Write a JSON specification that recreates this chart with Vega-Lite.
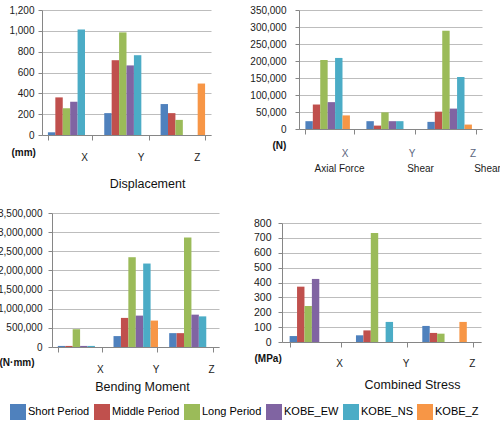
{
  "$schema": "https://vega.github.io/schema/vega-lite/v6.json",
  "padding": {"left": -3, "top": 5, "right": 0, "bottom": 0},
  "config": {
    "view": {"stroke": null},
    "font": "Liberation Sans",
    "axis": {"labelFont": "Liberation Sans", "labelFontSize": 10, "labelColor": "#1a1a1a", "domainColor": "#868686", "tickColor": "#868686", "gridColor": "#bdbdbd", "titleFont": "Liberation Sans", "titleColor": "#111111", "titleFontWeight": "normal"},
    "axisY": {"grid": true, "tickSize": 4, "titleAngle": 0, "titleAlign": "left", "titleBaseline": "middle", "titleFontWeight": "bold", "titleFontSize": 10, "format": ",d"},
    "axisX": {"grid": false, "tickBand": "extent", "tickSize": 5, "labelAngle": 0, "labelBaseline": "middle", "titleFontSize": 12.5, "titleBaseline": "middle", "titleAlign": "center"}
  },
  "data": {"values": [
    {"p": "disp", "axis": "X", "series": "Short Period", "value": 26},
    {"p": "disp", "axis": "X", "series": "Middle Period", "value": 361},
    {"p": "disp", "axis": "X", "series": "Long Period", "value": 258},
    {"p": "disp", "axis": "X", "series": "KOBE_EW", "value": 319},
    {"p": "disp", "axis": "X", "series": "KOBE_NS", "value": 1012},
    {"p": "disp", "axis": "X", "series": "KOBE_Z", "value": 0},
    {"p": "disp", "axis": "Y", "series": "Short Period", "value": 210},
    {"p": "disp", "axis": "Y", "series": "Middle Period", "value": 718},
    {"p": "disp", "axis": "Y", "series": "Long Period", "value": 985},
    {"p": "disp", "axis": "Y", "series": "KOBE_EW", "value": 668},
    {"p": "disp", "axis": "Y", "series": "KOBE_NS", "value": 766},
    {"p": "disp", "axis": "Y", "series": "KOBE_Z", "value": 0},
    {"p": "disp", "axis": "Z", "series": "Short Period", "value": 297},
    {"p": "disp", "axis": "Z", "series": "Middle Period", "value": 210},
    {"p": "disp", "axis": "Z", "series": "Long Period", "value": 145},
    {"p": "disp", "axis": "Z", "series": "KOBE_EW", "value": 0},
    {"p": "disp", "axis": "Z", "series": "KOBE_NS", "value": 0},
    {"p": "disp", "axis": "Z", "series": "KOBE_Z", "value": 494},
    {"p": "axial", "axis": "X", "series": "Short Period", "value": 23000},
    {"p": "axial", "axis": "X", "series": "Middle Period", "value": 72000},
    {"p": "axial", "axis": "X", "series": "Long Period", "value": 203000},
    {"p": "axial", "axis": "X", "series": "KOBE_EW", "value": 79000},
    {"p": "axial", "axis": "X", "series": "KOBE_NS", "value": 209000},
    {"p": "axial", "axis": "X", "series": "KOBE_Z", "value": 40000},
    {"p": "axial", "axis": "Y", "series": "Short Period", "value": 23000},
    {"p": "axial", "axis": "Y", "series": "Middle Period", "value": 10000},
    {"p": "axial", "axis": "Y", "series": "Long Period", "value": 49000},
    {"p": "axial", "axis": "Y", "series": "KOBE_EW", "value": 23000},
    {"p": "axial", "axis": "Y", "series": "KOBE_NS", "value": 23000},
    {"p": "axial", "axis": "Y", "series": "KOBE_Z", "value": 0},
    {"p": "axial", "axis": "Z", "series": "Short Period", "value": 21000},
    {"p": "axial", "axis": "Z", "series": "Middle Period", "value": 51000},
    {"p": "axial", "axis": "Z", "series": "Long Period", "value": 289000},
    {"p": "axial", "axis": "Z", "series": "KOBE_EW", "value": 60000},
    {"p": "axial", "axis": "Z", "series": "KOBE_NS", "value": 153000},
    {"p": "axial", "axis": "Z", "series": "KOBE_Z", "value": 13000},
    {"p": "bend", "axis": "X", "series": "Short Period", "value": 28000},
    {"p": "bend", "axis": "X", "series": "Middle Period", "value": 28000},
    {"p": "bend", "axis": "X", "series": "Long Period", "value": 465000},
    {"p": "bend", "axis": "X", "series": "KOBE_EW", "value": 28000},
    {"p": "bend", "axis": "X", "series": "KOBE_NS", "value": 28000},
    {"p": "bend", "axis": "X", "series": "KOBE_Z", "value": 0},
    {"p": "bend", "axis": "Y", "series": "Short Period", "value": 285000},
    {"p": "bend", "axis": "Y", "series": "Middle Period", "value": 760000},
    {"p": "bend", "axis": "Y", "series": "Long Period", "value": 2345000},
    {"p": "bend", "axis": "Y", "series": "KOBE_EW", "value": 820000},
    {"p": "bend", "axis": "Y", "series": "KOBE_NS", "value": 2180000},
    {"p": "bend", "axis": "Y", "series": "KOBE_Z", "value": 690000},
    {"p": "bend", "axis": "Z", "series": "Short Period", "value": 362000},
    {"p": "bend", "axis": "Z", "series": "Middle Period", "value": 362000},
    {"p": "bend", "axis": "Z", "series": "Long Period", "value": 2860000},
    {"p": "bend", "axis": "Z", "series": "KOBE_EW", "value": 845000},
    {"p": "bend", "axis": "Z", "series": "KOBE_NS", "value": 800000},
    {"p": "bend", "axis": "Z", "series": "KOBE_Z", "value": 0},
    {"p": "stress", "axis": "X", "series": "Short Period", "value": 40},
    {"p": "stress", "axis": "X", "series": "Middle Period", "value": 372},
    {"p": "stress", "axis": "X", "series": "Long Period", "value": 242},
    {"p": "stress", "axis": "X", "series": "KOBE_EW", "value": 424},
    {"p": "stress", "axis": "X", "series": "KOBE_NS", "value": 0},
    {"p": "stress", "axis": "X", "series": "KOBE_Z", "value": 0},
    {"p": "stress", "axis": "Y", "series": "Short Period", "value": 45},
    {"p": "stress", "axis": "Y", "series": "Middle Period", "value": 78},
    {"p": "stress", "axis": "Y", "series": "Long Period", "value": 733},
    {"p": "stress", "axis": "Y", "series": "KOBE_EW", "value": 0},
    {"p": "stress", "axis": "Y", "series": "KOBE_NS", "value": 135},
    {"p": "stress", "axis": "Y", "series": "KOBE_Z", "value": 0},
    {"p": "stress", "axis": "Z", "series": "Short Period", "value": 108},
    {"p": "stress", "axis": "Z", "series": "Middle Period", "value": 61},
    {"p": "stress", "axis": "Z", "series": "Long Period", "value": 56},
    {"p": "stress", "axis": "Z", "series": "KOBE_EW", "value": 0},
    {"p": "stress", "axis": "Z", "series": "KOBE_NS", "value": 0},
    {"p": "stress", "axis": "Z", "series": "KOBE_Z", "value": 135}
  ]},
  "bounds": "flush",
  "columns": 2,
  "spacing": {"row": 78, "column": 63},
  "concat": [
    {
      "width": 177, "height": 125,
      "transform": [{"filter": "datum.p == 'disp'"}],
      "mark": "bar",
      "encoding": {
        "x": {"field": "axis", "type": "nominal", "scale": {"paddingInner": 0.21, "paddingOuter": 0.105, "range": [0, 169]},
              "axis": {"title": "Displacement", "labelOffset": 14, "labelPadding": 17, "titleX": 105, "titleY": 48}},
        "xOffset": {"field": "series", "type": "nominal", "sort": ["Short Period", "Middle Period", "Long Period", "KOBE_EW", "KOBE_NS", "KOBE_Z"]},
        "y": {"field": "value", "type": "quantitative", "scale": {"domain": [0, 1200]},
              "axis": {"values": [0, 200, 400, 600, 800, 1000, 1200], "title": "(mm)", "titleX": -31, "titleY": 142, "labelPadding": 4}},
        "color": {"field": "series", "type": "nominal",
                  "scale": {"domain": ["Short Period", "Middle Period", "Long Period", "KOBE_EW", "KOBE_NS", "KOBE_Z"], "range": ["#4f81bd", "#c0504d", "#9bbb59", "#8064a2", "#4bacc6", "#f79646"]},
                  "legend": {"title": null, "orient": "none", "legendX": -32, "legendY": 394, "direction": "horizontal", "columns": 6, "symbolType": "square", "symbolSize": 256, "symbolStrokeWidth": 0, "symbolOpacity": 1, "labelFont": "Liberation Sans", "labelFontSize": 11, "labelColor": "#000000", "labelOffset": 2, "columnPadding": 4}}
      }
    },
    {
      "width": 200, "height": 119,
      "transform": [{"filter": "datum.p == 'axial'"}],
      "layer": [
        {
          "mark": "bar",
          "encoding": {
            "x": {"field": "axis", "type": "nominal", "scale": {"paddingInner": 0.21, "paddingOuter": 0.105, "range": [17, 200]},
                  "axis": {"title": null, "orient": "bottom", "labelColor": "#5b6680", "labelOffset": {"expr": "datum.value == 'X' ? 15 : 21"}, "labelPadding": 19}},
            "xOffset": {"field": "series", "type": "nominal", "sort": ["Short Period", "Middle Period", "Long Period", "KOBE_EW", "KOBE_NS", "KOBE_Z"]},
            "y": {"field": "value", "type": "quantitative", "scale": {"domain": [0, 350000]},
                  "axis": {"values": [0, 50000, 100000, 150000, 200000, 250000, 300000, 350000], "title": "(N)", "titleX": -27, "titleY": 135, "labelPadding": 9, "offset": -17}},
            "color": {"field": "series", "type": "nominal"}
          }
        },
        {
          "mark": {"type": "bar", "opacity": 0},
          "encoding": {
            "x": {"field": "axis", "type": "nominal",
                  "axis": {"title": null, "orient": "bottom", "domain": false, "ticks": false, "tickSize": 0, "tickBand": "center", "labelPadding": 39,
                           "labelExpr": "datum.value == 'X' ? 'Axial Force' : (datum.value == 'Y' || datum.value == 'Z') ? 'Shear' : ''",
                           "labelOffset": {"expr": "datum.value == 'X' ? 10 : datum.value == 'Y' ? 30 : 36"}}}
          }
        }
      ],
      "resolve": {"axis": {"x": "independent"}}
    },
    {
      "width": 177, "height": 134,
      "transform": [{"filter": "datum.p == 'bend'"}],
      "mark": "bar",
      "encoding": {
        "x": {"field": "axis", "type": "nominal", "scale": {"paddingInner": 0.21, "paddingOuter": 0.105, "range": [10, 177]},
              "axis": {"title": "Bending Moment", "labelOffset": 20, "labelPadding": 17, "titleX": 100, "titleY": 39}},
        "xOffset": {"field": "series", "type": "nominal", "sort": ["Short Period", "Middle Period", "Long Period", "KOBE_EW", "KOBE_NS", "KOBE_Z"]},
        "y": {"field": "value", "type": "quantitative", "scale": {"domain": [0, 3500000]},
              "axis": {"values": [0, 500000, 1000000, 1500000, 2000000, 2500000, 3000000, 3500000], "title": "(N·mm)", "titleX": -53, "titleY": 149, "labelPadding": 6, "offset": -10}},
        "color": {"field": "series", "type": "nominal"}
      }
    },
    {
      "width": 199, "height": 129,
      "transform": [{"filter": "datum.p == 'stress'"}],
      "mark": "bar",
      "encoding": {
        "x": {"field": "axis", "type": "nominal", "scale": {"paddingInner": 0.23, "paddingOuter": 0.115},
              "axis": {"title": "Combined Stress", "labelOffset": 24, "labelPadding": 16, "titleX": 130, "titleY": 42}},
        "xOffset": {"field": "series", "type": "nominal", "sort": ["Short Period", "Middle Period", "Long Period", "KOBE_EW", "KOBE_NS", "KOBE_Z"]},
        "y": {"field": "value", "type": "quantitative", "scale": {"domain": [0, 800], "range": [129, 10]},
              "axis": {"values": [0, 100, 200, 300, 400, 500, 600, 700, 800], "title": "(MPa)", "titleX": -28, "titleY": 145, "labelPadding": 7, "labelFontSize": 10.5}},
        "color": {"field": "series", "type": "nominal"}
      }
    }
  ]
}
